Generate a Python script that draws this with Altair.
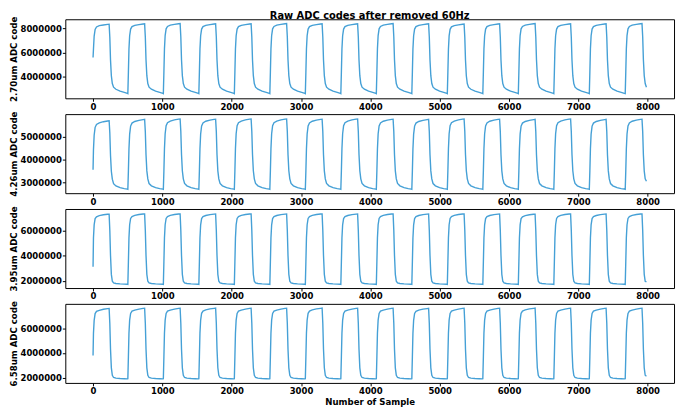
import altair as alt
import pandas as pd

# ---------------- data ----------------
X_TICKS = [0, 1000, 2000, 3000, 4000, 5000, 6000, 7000, 8000]
LAST_X = 7982

# sample index at which each rising edge starts
CYCLE_STARTS = [-10, 502, 1014, 1526, 2038, 2550, 3062, 3574, 4086,
                4598, 5110, 5622, 6134, 6646, 7158, 7676]

# offsets (samples) inside one cycle where the curve was read
PROFILE_DX = [0, 8, 16, 26, 40, 60, 100, 160, 220, 242, 252, 262, 274,
              288, 306, 340, 400, 460, 505]

# one cycle of each channel (ADC codes, millions)
P1_PROFILE = [2.62, 4.40, 6.30, 7.40, 7.95, 8.15, 8.26, 8.32, 8.37, 8.38,
              7.30, 5.40, 4.10, 3.45, 3.15, 2.98, 2.82, 2.72, 2.64]
P2_PROFILE = [2.70, 3.50, 4.45, 5.10, 5.45, 5.58, 5.65, 5.70, 5.73, 5.74,
              5.20, 4.20, 3.50, 3.15, 2.95, 2.85, 2.77, 2.73, 2.71]
P3_PROFILE = [1.70, 3.50, 5.40, 6.45, 6.95, 7.10, 7.19, 7.26, 7.30, 7.31,
              6.00, 4.00, 2.50, 1.95, 1.82, 1.77, 1.74, 1.72, 1.71]
P4_PROFILE = [1.92, 3.70, 5.60, 6.65, 7.20, 7.38, 7.47, 7.55, 7.60, 7.62,
              6.40, 4.30, 2.80, 2.20, 2.02, 1.97, 1.94, 1.92, 1.91]

# plateau level of each cycle (millions)
P1_HIGH = [8.35, 8.38, 8.40, 8.38, 8.38, 8.40, 8.38, 8.38, 8.40, 8.38,
           8.36, 8.38, 8.40, 8.38, 8.38, 8.40]
P2_HIGH = [5.68, 5.74, 5.76, 5.75, 5.76, 5.76, 5.75, 5.76, 5.75, 5.74,
           5.76, 5.75, 5.74, 5.76, 5.74, 5.75]
P3_HIGH = [7.30, 7.32, 7.32, 7.31, 7.32, 7.31, 7.32, 7.31, 7.32, 7.31,
           7.32, 7.31, 7.30, 7.32, 7.31, 7.32]
P4_HIGH = [7.60, 7.62, 7.62, 7.63, 7.62, 7.62, 7.63, 7.62, 7.62, 7.61,
           7.62, 7.62, 7.63, 7.62, 7.62, 7.62]

FIRST_Y = [5.60, 3.55, 3.10, 3.80]
LAST_Y = [3.15, 3.05, 1.90, 2.12]

LABELS = ["2.70um ADC code", "4.26um ADC code", "3.95um ADC code", "6.58um ADC code"]
Y_TICKS = [[4000000, 6000000, 8000000],
           [3000000, 4000000, 5000000],
           [2000000, 4000000, 6000000],
           [2000000, 4000000, 6000000]]
Y_DOMAINS = [[2230000, 8760000],
             [2530000, 5970000],
             [1410000, 7710000],
             [1580000, 7970000]]

PROFILES = [P1_PROFILE, P2_PROFILE, P3_PROFILE, P4_PROFILE]
HIGHS = [P1_HIGH, P2_HIGH, P3_HIGH, P4_HIGH]

LINE_COLOR = "#45a0d6"
FONT = "DejaVu Sans"


def build_table(i):
    prof = PROFILES[i]
    low = prof[0]
    top = max(prof)
    xs = [0]
    ys = [FIRST_Y[i] * 1e6]
    for k, s in enumerate(CYCLE_STARTS):
        scale = (HIGHS[i][k] - low) / (top - low)
        for dx, p in zip(PROFILE_DX, prof):
            x = s + dx
            if 0 < x < LAST_X:
                xs.append(x)
                ys.append((low + (p - low) * scale) * 1e6)
    xs.append(LAST_X)
    ys.append(LAST_Y[i] * 1e6)
    return pd.DataFrame({"x": xs, "y": ys})


W, H = 616, 80
panels = []
for i in range(4):
    last = i == 3
    xaxis = alt.Axis(values=X_TICKS, format="d", labelFlush=False,
                     title="Number of Sample" if last else None)
    props = dict(width=W, height=H)
    if i == 0:
        props["title"] = alt.TitleParams(
            "Raw ADC codes after removed 60Hz", font=FONT, fontSize=10,
            fontWeight="bold", color="black", anchor="middle",
            frame="group", offset=-5)
    ch = alt.Chart(build_table(i)).mark_line(
        color=LINE_COLOR, strokeWidth=1.4
    ).encode(
        x=alt.X("x:Q", scale=alt.Scale(domain=[-400, 8380], nice=False, zero=False),
                axis=xaxis),
        y=alt.Y("y:Q", scale=alt.Scale(domain=Y_DOMAINS[i], nice=False, zero=False),
                axis=alt.Axis(values=Y_TICKS[i], format="d", title=LABELS[i])),
    ).properties(**props)
    panels.append(ch)

chart = alt.vconcat(*panels, spacing=16, bounds="flush").properties(
    padding={"left": 0, "top": 0, "right": 2, "bottom": 0}
).configure_view(
    stroke="black", strokeWidth=1
).configure_axis(
    grid=False, domain=False, tickColor="black", tickSize=3, tickWidth=1,
    labelColor="black", titleColor="black", labelFont=FONT, titleFont=FONT,
    labelFontSize=8.6, labelFontWeight="bold", titleFontSize=8.7,
    titleFontWeight="bold", labelPadding=1, titlePadding=2
)

chart.save("out.html", embed_options={"renderer": "svg", "actions": False})
